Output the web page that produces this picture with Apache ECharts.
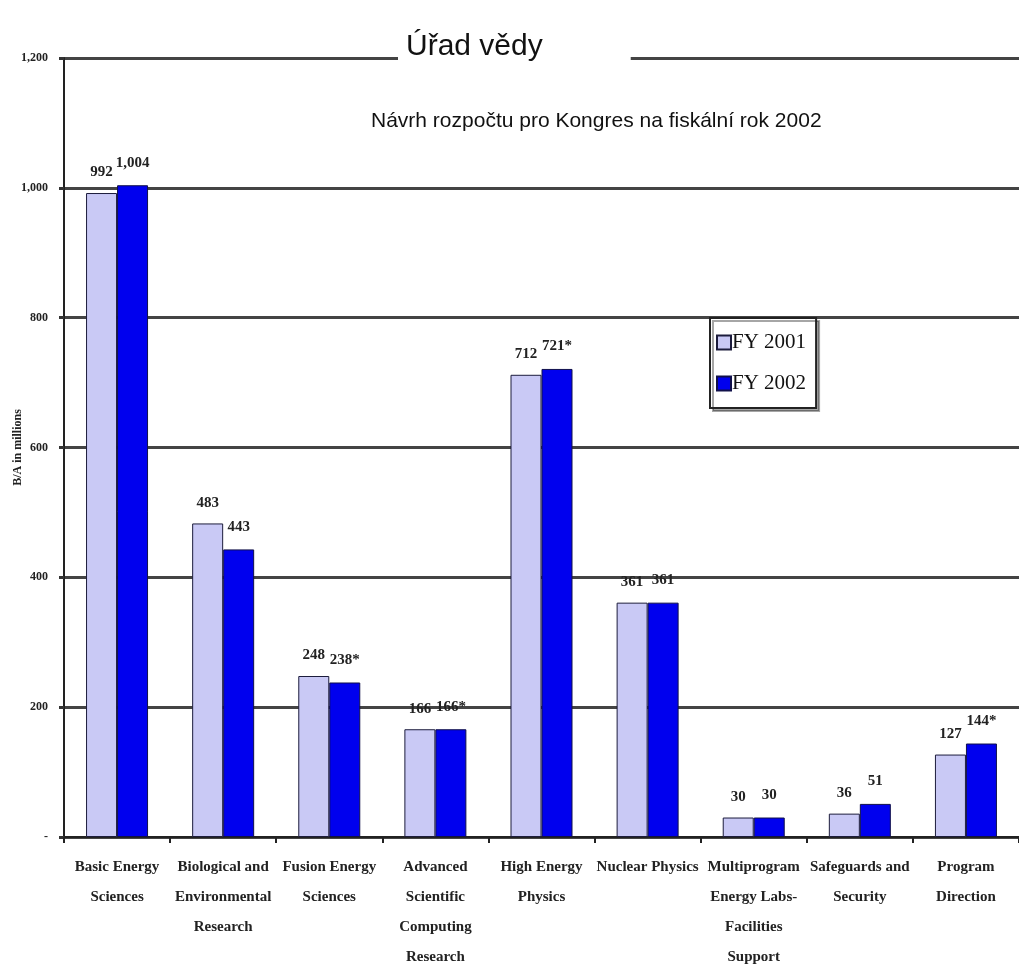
<!DOCTYPE html>
<html>
<head>
<meta charset="utf-8">
<script src="https://cdn.jsdelivr.net/npm/echarts@6/dist/echarts.min.js"></script>
<style>
  html, body { margin: 0; padding: 0; background: #fff; }
  #chart { width: 1019px; height: 965px; }
</style>
</head>
<body>
<div id="chart"></div>
<script>
var categories = [
    'Basic Energy\nSciences',
    'Biological and\nEnvironmental\nResearch',
    'Fusion Energy\nSciences',
    'Advanced\nScientific\nComputing\nResearch',
    'High Energy\nPhysics',
    'Nuclear Physics',
    'Multiprogram\nEnergy Labs-\nFacilities\nSupport',
    'Safeguards and\nSecurity',
    'Program\nDirection'
];
var fy2001 = [992, 483, 248, 166, 712, 361, 30, 36, 127];
var fy2002 = [1004, 443, 238, 166, 721, 361, 30, 51, 144];
var marks2002 = ['', '', '*', '*', '*', '', '', '', '*'];
var yTicks = [0, 200, 400, 600, 800, 1000, 1200];

var serif = 'Liberation Serif';

function fmt(v) {
    if (v === 0) return '-';
    return v.toLocaleString('en-US');
}

var myChart = echarts.init(document.getElementById('chart'));
var option = {
    backgroundColor: '#fff',
    animation: false,
    title: [
        {
            text: 'Úřad vědy',
            left: 398,
            top: 28,
            backgroundColor: '#fff',
            padding: [4, 88, 6, 8],
            textStyle: {fontFamily: 'Liberation Sans', fontSize: 30, fontWeight: 'normal', color: '#111'}
        },
        {
            text: 'Návrh rozpočtu pro Kongres na fiskální rok 2002',
            left: 366,
            top: 106,
            textStyle: {fontFamily: 'Liberation Sans', fontSize: 21, fontWeight: 'normal', color: '#111'}
        }
    ],
    legend: {
        data: ['FY 2001', 'FY 2002'],
        orient: 'vertical',
        left: 710,
        top: 318,
        padding: [14, 10, 14, 6],
        itemGap: 20,
        itemWidth: 14,
        itemHeight: 14,
        icon: 'rect',
        borderColor: '#222',
        borderWidth: 2,
        backgroundColor: '#fff',
        shadowColor: 'rgba(0,0,0,0.35)',
        shadowOffsetX: 3,
        shadowOffsetY: 3,
        textStyle: {fontFamily: serif, fontSize: 21, color: '#111', padding: [0, 0, 0, -4]}
    },
    grid: {left: 64, right: 0, top: 58, bottom: 128, outerBoundsMode: 'none'},
    xAxis: {
        type: 'category',
        data: categories,
        axisLine: {lineStyle: {color: '#222', width: 2}},
        axisTick: {show: true, length: 6, lineStyle: {color: '#222', width: 2}},
        axisLabel: {
            interval: 0,
            margin: 15,
            lineHeight: 30,
            fontFamily: serif,
            fontWeight: 'bold',
            fontSize: 15,
            color: '#222'
        }
    },
    yAxis: {
        type: 'value',
        min: 0,
        max: 1200,
        interval: 200,
        name: 'B/A in millions',
        nameLocation: 'middle',
        nameGap: 40,
        nameMoveOverlap: false,
        nameTextStyle: {fontFamily: serif, fontWeight: 'bold', fontSize: 12, color: '#222'},
        axisLine: {show: true, lineStyle: {color: '#222', width: 2}},
        axisTick: {show: true, length: 5, lineStyle: {color: '#333', width: 3}},
        axisLabel: {
            margin: 16,
            fontFamily: serif,
            fontWeight: 'bold',
            fontSize: 12,
            color: '#222',
            formatter: function (v) { return yTicks.indexOf(v) >= 0 ? fmt(v) : ''; }
        },
        splitLine: {show: true, lineStyle: {color: '#444', width: 3}}
    },
    series: [
        {
            name: 'FY 2001',
            type: 'bar',
            data: fy2001,
            barWidth: 31,
            barGap: '0%',
            itemStyle: {color: '#c9c9f5', borderColor: '#1c1c3c', borderWidth: 1},
            label: {
                show: true,
                position: 'top',
                distance: 13,
                fontFamily: serif,
                fontWeight: 'bold',
                fontSize: 15,
                color: '#222',
                formatter: function (p) { return fmt(p.value); }
            }
        },
        {
            name: 'FY 2002',
            type: 'bar',
            data: fy2002,
            barWidth: 31,
            barGap: '0%',
            itemStyle: {color: '#0000ee', borderColor: '#10104a', borderWidth: 1},
            label: {
                show: true,
                position: 'top',
                distance: 15,
                fontFamily: serif,
                fontWeight: 'bold',
                fontSize: 15,
                color: '#222',
                formatter: function (p) { return fmt(p.value) + marks2002[p.dataIndex]; }
            }
        }
    ]
};
myChart.setOption(option);
</script>
</body>
</html>
